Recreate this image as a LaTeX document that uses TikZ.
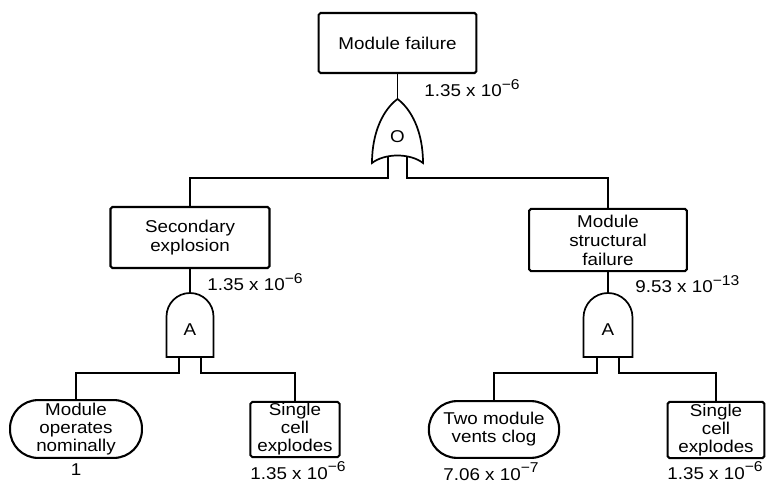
\documentclass[tikz,border=0pt]{standalone}
\usepackage{fontspec}
\setmainfont{Liberation Sans}[FakeStretch=1.1]
\usetikzlibrary{positioning}
% power of ten as printed next to the gates
\newcommand{\pexp}[1]{\raisebox{4pt}{\fontsize{7.5}{7.5}\selectfont #1}}

\begin{document}
\begin{tikzpicture}[x=1.85mm,y=1.85mm,
		font=\fontsize{9}{10}\selectfont,
		event/.style={draw,line width=1.1pt,rounded corners=1pt,align=center,inner sep=0pt},
		basic/.style={event,font=\fontsize{9}{9.5}\selectfont},
		undev/.style={draw,line width=1.1pt,rounded corners=5.2mm,align=center,inner sep=0pt,font=\fontsize{9}{9.5}\selectfont},
		gate/.style={draw,line width=0.9pt,fill=white},
		wire/.style={line width=0.7pt},
		prob/.style={inner sep=0pt}]
	\useasboundingbox (0,0) rectangle (76.7,48.3);
	%EVENTS
	\node[event,minimum width=29.2mm,minimum height=11.1mm] (top) at (39.75,44.0) {Module failure};
	\node[event,minimum width=29.4mm,minimum height=11.3mm] (sec) at (19.0,24.55) {Secondary\\explosion};
	\node[event,minimum width=29.2mm,minimum height=11.5mm] (msf) at (60.8,24.3) {Module\\structural\\failure};
	\node[prob,anchor=base west] (ptop) at (42.4,38.6) {1.35 x 10\pexp{−6}};
	\node[prob,anchor=base west] (psec) at (20.7,19.2) {1.35 x 10\pexp{−6}};
	\node[prob,anchor=base west] (pmsf) at (63.5,19.0) {9.53 x 10\pexp{−13}};
	
	% OR gate, legs first so the white fill covers their ends
	\coordinate (or) at (39.75,38.4);
	\coordinate (orL) at (38.8,32.9);
	\coordinate (orR) at (40.7,32.9);
	\draw[wire] (top) -- (or);
	\draw[wire] (orL) -- ++(0,-2.4) -| (sec.north);
	\draw[wire] (orR) -- ++(0,-2.4) -| (msf.north);
	\draw[gate] (37.2,32.0) .. controls (37.2,35.2) and (38.4,37.4) .. (or)
		.. controls (41.1,37.4) and (42.3,35.2) .. (42.3,32.0)
		.. controls (41.0,33.0) and (38.5,33.0) .. cycle;
	\node (orsym) at (39.75,34.6) {O};
	
	%LEFT BRANCH
	\coordinate (andA) at (19.0,19.0);
	\coordinate (andAl) at (17.9,12.6);
	\coordinate (andAr) at (20.1,12.6);
	\draw[wire] (sec) -- (andA);
	\draw[gate] (16.65,12.6) -- (16.65,16.65) arc[start angle=180,end angle=0,radius=2.35] -- (21.35,12.6) -- cycle;
	\node (andAsym) at (19.0,15.3) {A};
	\node[undev,minimum width=24.4mm,minimum height=10.7mm] (n1) at (7.6,5.4) {Module\\operates\\nominally};
	\node[basic,minimum width=16.5mm,minimum height=10.2mm] (n2) at (29.5,5.35) {Single\\cell\\explodes};
	\draw[wire] (andAl) -- ++(0,-1.6) -| (n1.north);
	\draw[wire] (andAr) -- ++(0,-1.6) -| (n2.north);
	\node[prob,anchor=base] (p1) at (7.6,0.8) {1};
	\node[prob,anchor=base] (p2) at (29.8,0.35) {1.35 x 10\pexp{−6}};
	
	%RIGHT BRANCH
	\coordinate (andB) at (60.8,19.0);
	\coordinate (andBl) at (59.7,12.6);
	\coordinate (andBr) at (61.9,12.6);
	\draw[wire] (msf) -- (andB);
	\draw[gate] (58.35,12.6) -- (58.35,16.55) arc[start angle=180,end angle=0,radius=2.45] -- (63.25,12.6) -- cycle;
	\node (andBsym) at (60.8,15.3) {A};
	\node[undev,minimum width=24.1mm,minimum height=10.5mm] (n3) at (49.4,5.35) {Two module\\vents clog};
	\node[basic,minimum width=17.9mm,minimum height=10.4mm] (n4) at (71.6,5.3) {Single\\cell\\explodes};
	\draw[wire] (andBl) -- ++(0,-1.6) -| (n3.north);
	\draw[wire] (andBr) -- ++(0,-1.6) -| (n4.north);
	\node[prob,anchor=base] (p3) at (49.1,0.25) {7.06 x 10\pexp{−7}};
	\node[prob,anchor=base] (p4) at (71.5,0.4) {1.35 x 10\pexp{−6}};
\end{tikzpicture}
\end{document}
